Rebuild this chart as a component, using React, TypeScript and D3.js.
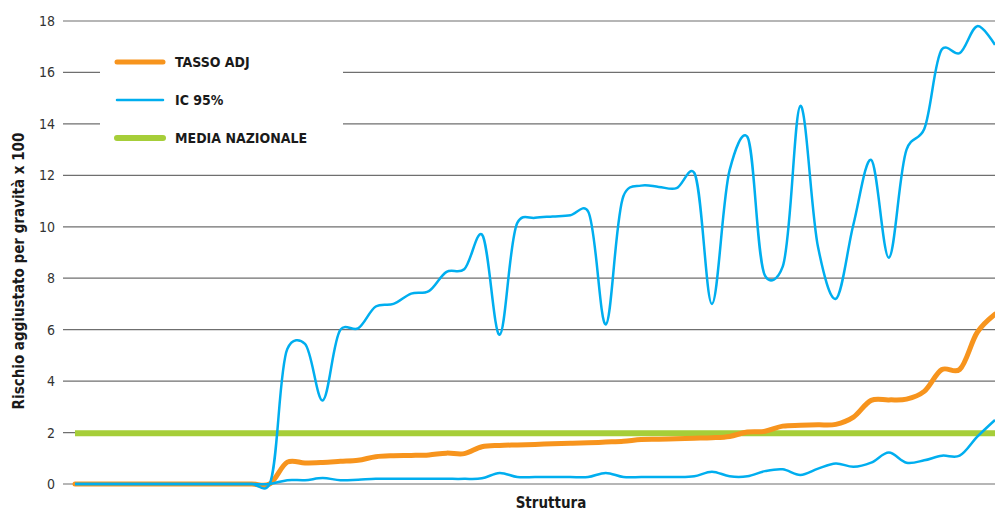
import { useEffect } from 'react';
import * as d3 from 'd3';

// one value per structure, sorted by adjusted rate
const tassoAdj = [
  0, 0, 0, 0, 0, 0, 0, 0, 0, 0, 0, 0,
  0.85, 0.82, 0.84, 0.88, 0.92, 1.06, 1.1, 1.11, 1.13, 1.2, 1.18, 1.45,
  1.5, 1.52, 1.54, 1.56, 1.58, 1.6, 1.63, 1.66, 1.73, 1.74, 1.76, 1.78,
  1.8, 1.85, 2.02, 2.05, 2.25, 2.28, 2.3, 2.32, 2.6, 3.25, 3.27, 3.3,
  3.6, 4.45, 4.45, 5.9, 6.6,
];
const icUpper = [
  0, 0, 0, 0, 0, 0, 0, 0, 0, 0, 0, 0,
  5.25, 5.45, 3.25, 6.0, 6.05, 6.9, 7.0, 7.4, 7.5, 8.25, 8.35, 9.7,
  5.8, 10.15, 10.35, 10.4, 10.45, 10.6, 6.2, 11.2, 11.6, 11.55, 11.5, 12.1,
  7.0, 12.2, 13.5, 8.1, 8.45, 14.7, 9.2, 7.2, 10.1, 12.6, 8.8, 13.0,
  13.8, 16.9, 16.75, 17.8, 17.07,
];
const icLower = [
  0, 0, 0, 0, 0, 0, 0, 0, 0, 0, 0, 0,
  0.15, 0.15, 0.23, 0.15, 0.17, 0.2, 0.2, 0.2, 0.2, 0.2, 0.2, 0.22,
  0.43, 0.27, 0.27, 0.27, 0.27, 0.27, 0.43, 0.27, 0.27, 0.27, 0.27, 0.3,
  0.48, 0.3, 0.3, 0.5, 0.57, 0.35, 0.6, 0.8, 0.67, 0.83, 1.22, 0.83,
  0.92, 1.1, 1.1, 1.84, 2.49,
];
const mediaNazionale = 1.97;
const yTicks = [0, 2, 4, 6, 8, 10, 12, 14, 16, 18];
const legendItems = [
  { label: 'TASSO ADJ', color: '#f7941d', width: 5 },
  { label: 'IC 95%', color: '#00aeef', width: 2.5 },
  { label: 'MEDIA NAZIONALE', color: '#a6ce39', width: 6 },
];

const W = 995;
const H = 511;
const FONT = "'DejaVu Sans Condensed', 'Liberation Sans Narrow', 'Open Sans', sans-serif";

export default function App() {
  useEffect(() => {
    document.body.style.margin = '0';
  }, []);

  const n = tassoAdj.length;
  const x = d3.scaleLinear().domain([0, n - 1]).range([75, 995]);
  const y = d3.scaleLinear().domain([0, 18]).range([484, 21]);

  const line = d3.line<number>()
    .x((d, i) => x(i))
    .y(d => y(d))
    .curve(d3.curveCatmullRom.alpha(0.25));

  return (
    <svg width={W} height={H} style={{ display: 'block', background: '#fff' }}>
      {/* grid */}
      {yTicks.map(t => (
        <g key={t}>
          <line x1={63} x2={995} y1={y(t)} y2={y(t)} stroke="#6f6f6f" strokeWidth={1.2} />
          <text x={55} y={y(t)} dy="0.36em" textAnchor="end" fontFamily={FONT}
            fontSize={14} fill="#333">{t}</text>
        </g>
      ))}

      {/* legend */}
      <rect x={100} y={40} width={243} height={115} fill="#fff" />
      {legendItems.map((d, i) => (
        <g key={d.label} transform={`translate(0, ${62 + i * 38})`}>
          <line x1={117} x2={163} y1={0} y2={0} stroke={d.color} strokeWidth={d.width}
            strokeLinecap="round" />
          <text x={175} y={0} dy="0.36em" fontFamily={FONT} fontWeight="bold"
            fontSize={14} fill="#1a1a1a">{d.label}</text>
        </g>
      ))}

      {/* series */}
      <line x1={x(0)} x2={x(n - 1)} y1={y(mediaNazionale)} y2={y(mediaNazionale)}
        stroke="#a6ce39" strokeWidth={6} />
      <path d={line(tassoAdj) || ''} fill="none" stroke="#f7941d" strokeWidth={5}
        strokeLinejoin="round" strokeLinecap="round" />
      <path d={line(icUpper) || ''} fill="none" stroke="#00aeef" strokeWidth={2.5}
        strokeLinejoin="round" />
      <path d={line(icLower) || ''} fill="none" stroke="#00aeef" strokeWidth={2.5}
        strokeLinejoin="round" />

      {/* axis titles */}
      <text x={551} y={508} textAnchor="middle" fontFamily={FONT} fontWeight="bold"
        fontSize={15} fill="#1a1a1a">Struttura</text>
      <text transform="translate(24, 271) rotate(-90)" textAnchor="middle" fontFamily={FONT}
        fontWeight="bold" fontSize={15} fill="#1a1a1a">Rischio aggiustato per gravità x 100</text>
    </svg>
  );
}
